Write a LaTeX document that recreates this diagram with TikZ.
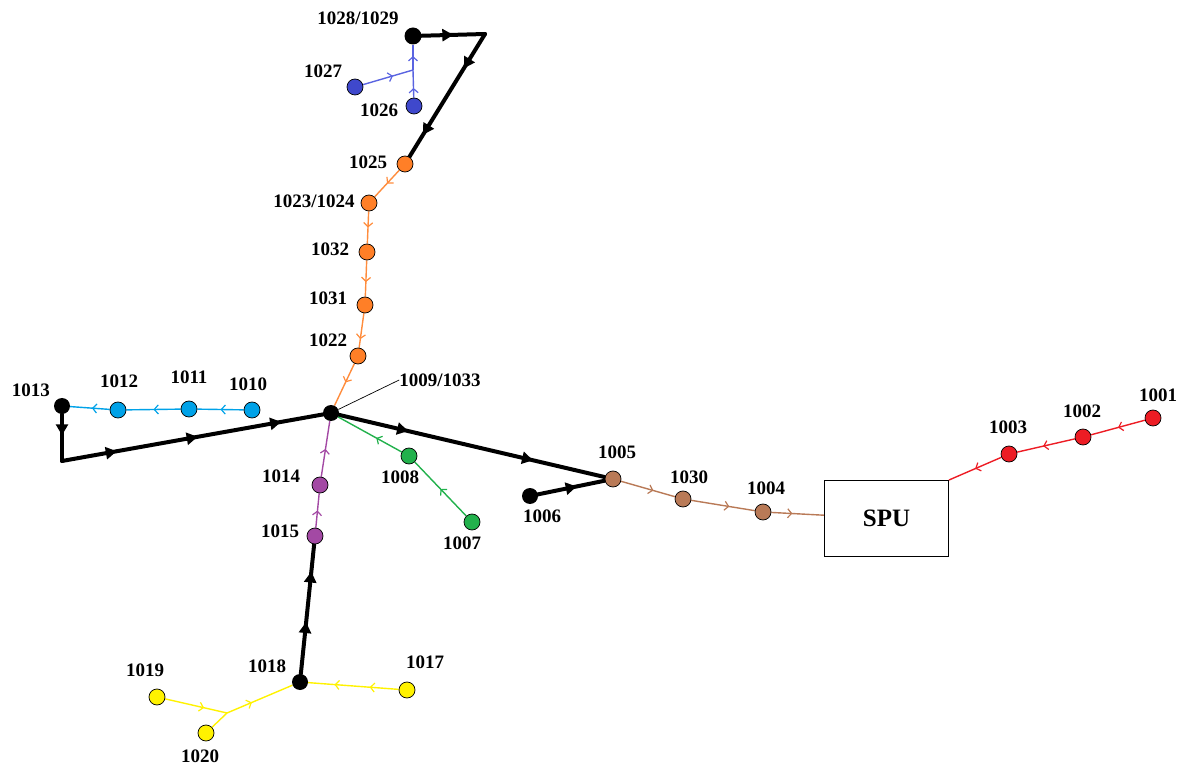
\documentclass[tikz,border=0pt]{standalone}
\usepackage{fontspec}
\setmainfont{Liberation Serif}
\usetikzlibrary{arrows.meta,decorations.markings}
\definecolor{cOrange}{RGB}{255,127,39}
\definecolor{cOrangeL}{RGB}{255,140,60}
\definecolor{cBlue}{RGB}{63,72,204}
\definecolor{cBlueL}{RGB}{90,100,225}
\definecolor{cSky}{RGB}{0,162,232}
\definecolor{cGreen}{RGB}{34,177,76}
\definecolor{cBrown}{RGB}{185,122,87}
\definecolor{cRed}{RGB}{237,28,36}
\definecolor{cPurple}{RGB}{163,73,164}
\definecolor{cYellow}{RGB}{255,242,0}
\pgfdeclarelayer{bg}
\pgfsetlayers{bg,main}
\tikzset{
  pt/.style={circle, draw=black, line width=0.7pt, inner sep=0pt, minimum size=16pt, fill=#1},
  blk/.style={circle, fill=black, inner sep=0pt, minimum size=16pt},
  lbl/.style={font=\bfseries\fontsize{19}{20}\selectfont, inner sep=0pt},
  thinline/.style={line width=1.4pt, draw=#1},
  heavy/.style={line width=4pt, draw=black, line cap=round},
  oa/.style={postaction={decorate,decoration={markings,mark=at position #1 with {\arrow{Straight Barb[length=4pt,width=9pt,line width=1.2pt]}}}}},
  fa/.style={postaction={decorate,decoration={markings,mark=at position #1 with {\arrow{Triangle[length=11pt,width=12pt]}}}}}
}
\begin{document}
\begin{tikzpicture}[x=1pt,y=-1pt]
\useasboundingbox (0,0) rectangle (1184,767);
% nodes
\node[blk, minimum size=17pt] (n1028) at (413,36) {};
\coordinate (c1) at (485,34);
\coordinate (jb) at (413,70);
\node[pt=cBlue] (n1027) at (355,87) {};
\node[pt=cBlue] (n1026) at (414,106) {};
\node[pt=cOrange] (n1025) at (405,164) {};
\node[pt=cOrange] (n1023) at (369,203) {};
\node[pt=cOrange] (n1032) at (367,252) {};
\node[pt=cOrange] (n1031) at (365,305) {};
\node[pt=cOrange] (n1022) at (358,356) {};
\node[blk] (n1009) at (331,413) {};
\node[blk] (n1013) at (62,406) {};
\node[pt=cSky] (n1012) at (118,410) {};
\node[pt=cSky] (n1011) at (189,409) {};
\node[pt=cSky] (n1010) at (252,410) {};
\coordinate (c2) at (62,461);
\node[pt=cGreen] (n1008) at (409,456) {};
\node[pt=cGreen] (n1007) at (472,522) {};
\node[pt=cBrown] (n1005) at (613,479) {};
\node[blk] (n1006) at (530,496) {};
\node[pt=cBrown] (n1030) at (683,499) {};
\node[pt=cBrown] (n1004) at (763,512) {};
\node[draw, line width=1pt, minimum width=124pt, minimum height=76pt, inner sep=0pt,
      font=\bfseries\fontsize{25}{26}\selectfont] (spu) at (886.5,518.5) {SPU};
\node[pt=cRed] (n1001) at (1153,418) {};
\node[pt=cRed] (n1002) at (1083,437) {};
\node[pt=cRed] (n1003) at (1009,454) {};
\node[pt=cPurple] (n1014) at (320,485) {};
\node[pt=cPurple] (n1015) at (315,536) {};
\node[blk] (n1018) at (300,682) {};
\node[pt=cYellow] (n1017) at (407,690) {};
\node[pt=cYellow] (n1019) at (157,697) {};
\node[pt=cYellow] (n1020) at (206,733) {};
\coordinate (jy) at (227,713);
% labels
\node[lbl] (l1028) at (358,18) {1028/1029};
\node[lbl] (l1027) at (323,71) {1027};
\node[lbl] (l1026) at (379,110) {1026};
\node[lbl] (l1025) at (368,162) {1025};
\node[lbl] (l1023) at (314,201) {1023/1024};
\node[lbl] (l1032) at (330,249) {1032};
\node[lbl] (l1031) at (328,298) {1031};
\node[lbl] (l1022) at (328,340) {1022};
\node[lbl] (l1009) at (440,380) {1009/1033};
\node[lbl] (l1013) at (31,390) {1013};
\node[lbl] (l1012) at (119,381) {1012};
\node[lbl] (l1011) at (189,377) {1011};
\node[lbl] (l1010) at (248,384) {1010};
\node[lbl] (l1008) at (400,477) {1008};
\node[lbl] (l1007) at (462,543) {1007};
\node[lbl] (l1005) at (617,452) {1005};
\node[lbl] (l1006) at (542,516) {1006};
\node[lbl] (l1030) at (689,477) {1030};
\node[lbl] (l1004) at (766,488) {1004};
\node[lbl] (l1001) at (1158,395) {1001};
\node[lbl] (l1002) at (1082,411) {1002};
\node[lbl] (l1003) at (1008,427) {1003};
\node[lbl] (l1014) at (281,476) {1014};
\node[lbl] (l1015) at (280,531) {1015};
\node[lbl] (l1018) at (267,666) {1018};
\node[lbl] (l1017) at (425,662) {1017};
\node[lbl] (l1019) at (145,670) {1019};
\node[lbl] (l1020) at (200,756) {1020};
% connectors
\begin{pgfonlayer}{bg}
\draw[heavy, fa=0.5] (n1028) -- (c1);
\draw[heavy, fa=0.28, fa=0.82] (c1) -- (n1025);
\draw[thinline=cBlueL, oa=0.6] (n1027) -- (jb);
\draw[thinline=cBlueL, oa=0.35] (n1026) -- (jb);
\draw[thinline=cBlueL, oa=0.55] (jb) -- (n1028);
\draw[thinline=cOrangeL, oa=0.5] (n1025) -- (n1023);
\draw[thinline=cOrangeL, oa=0.5] (n1023) -- (n1032);
\draw[thinline=cOrangeL, oa=0.6] (n1032) -- (n1031);
\draw[thinline=cOrangeL, oa=0.75] (n1031) -- (n1022);
\draw[thinline=cOrangeL, oa=0.45] (n1022) -- (n1009);
\draw[thinline=cSky, oa=0.5] (n1010) -- (n1011);
\draw[thinline=cSky, oa=0.5] (n1011) -- (n1012);
\draw[thinline=cSky, oa=0.45] (n1012) -- (n1013);
\draw[heavy, fa=0.45] (n1013) -- (c2);
\draw[heavy, fa=0.21, fa=0.52, fa=0.84] (c2) -- (n1009);
\draw[heavy, fa=0.26, fa=0.73] (n1009) -- (n1005);
\draw[heavy, fa=0.58] (n1006) -- (n1005);
\draw[thinline=cGreen, oa=0.5] (n1007) -- (n1008);
\draw[thinline=cGreen, oa=0.4] (n1008) -- (n1009);
\draw[thinline=cBrown, oa=0.6] (n1005) -- (n1030);
\draw[thinline=cBrown, oa=0.6] (n1030) -- (n1004);
\draw[thinline=cBrown, oa=0.4] (n1004) -- (spu);
\draw[thinline=cRed, oa=0.5] (n1001) -- (n1002);
\draw[thinline=cRed, oa=0.55] (n1002) -- (n1003);
\draw[thinline=cRed, oa=0.5] (n1003) -- (spu.north east);
\draw[thinline=cPurple, oa=0.5] (n1015) -- (n1014);
\draw[thinline=cPurple, oa=0.5] (n1014) -- (n1009);
\draw[heavy, fa=0.4, fa=0.79] (n1018) -- (n1015);
\draw[thinline=cYellow, oa=0.32, oa=0.71] (n1017) -- (n1018);
\draw[thinline=cYellow, oa=0.63] (n1019) -- (jy);
\draw[thinline=cYellow] (n1020) -- (jy);
\draw[thinline=cYellow, oa=0.38] (jy) -- (n1018);
\draw[line width=0.7pt] (n1009) -- (l1009.west);
\end{pgfonlayer}
\end{tikzpicture}
\end{document}
